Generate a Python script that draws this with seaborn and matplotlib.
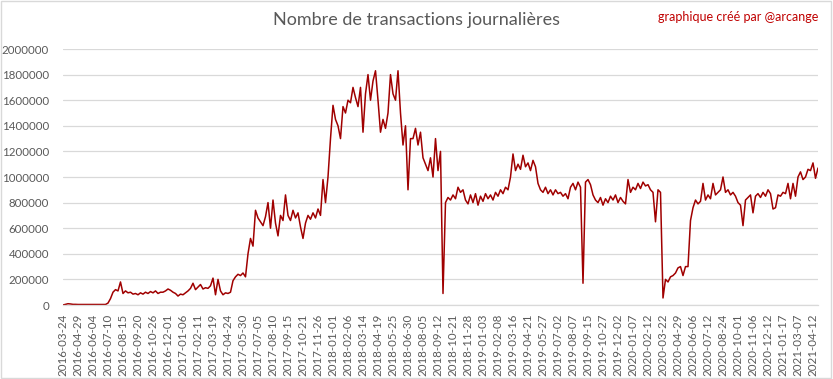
import numpy as np
import pandas as pd
import matplotlib
matplotlib.use("Agg")
import matplotlib.pyplot as plt
import matplotlib.ticker as mticker
from matplotlib.patches import Rectangle
import seaborn as sns


# tick labels of the category axis (one every 36 days of data)
tick_dates = ['2016-03-24', '2016-04-29', '2016-06-04', '2016-07-10', '2016-08-15', '2016-09-20',
              '2016-10-26', '2016-12-01', '2017-01-06', '2017-02-11', '2017-03-19', '2017-04-24',
              '2017-05-30', '2017-07-05', '2017-08-10', '2017-09-15', '2017-10-21', '2017-11-26',
              '2018-01-01', '2018-02-06', '2018-03-14', '2018-04-19', '2018-05-25', '2018-06-30',
              '2018-08-05', '2018-09-12', '2018-10-21', '2018-11-28', '2019-01-03', '2019-02-08',
              '2019-03-16', '2019-04-21', '2019-05-27', '2019-07-02', '2019-08-07', '2019-09-15',
              '2019-10-27', '2019-12-02', '2020-01-07', '2020-02-12', '2020-03-22', '2020-04-29',
              '2020-06-06', '2020-07-12', '2020-08-24', '2020-10-01', '2020-11-06', '2020-12-12',
              '2021-01-17', '2021-03-07', '2021-04-12']

# daily transactions, read every 6th day off the chart (thousands)
tx_2016 = [0, 5, 10, 8, 5, 5, 4, 4, 4, 4,
           4, 4, 4, 4, 4, 4, 4, 4, 15, 50,
           100, 120, 110, 180, 90, 110, 95, 100, 85, 90,
           80, 95, 85, 100, 90, 105, 95, 110, 90, 100,
           100, 110, 125, 115, 100, 90, 70, 85, 80, 95]
tx_2017 = [110, 130, 170, 120, 140, 160, 125, 135, 130, 150,
           210, 80, 200, 110, 80, 95, 90, 100, 190, 220,
           240, 230, 250, 220, 400, 520, 460, 740, 680, 650,
           620, 690, 800, 600, 820, 640, 540, 700, 660, 860,
           700, 660, 740, 680, 720, 610, 520, 640, 700, 670,
           720, 680, 750, 700, 980, 800, 1000, 1300, 1560, 1450]
tx_2018 = [1400, 1300, 1550, 1500, 1600, 1580, 1700, 1620, 1550, 1700,
           1350, 1650, 1800, 1600, 1750, 1830, 1600, 1350, 1450, 1380,
           1500, 1800, 1650, 1600, 1830, 1500, 1250, 1400, 900, 1300,
           1300, 1380, 1250, 1350, 1150, 1100, 1050, 1150, 1000, 1300,
           1050, 1200, 90, 800, 840, 820, 860, 830, 920, 880,
           900, 820, 790, 860, 800, 870, 780, 850, 810, 870]
tx_2019 = [830, 860, 820, 880, 850, 900, 870, 920, 900, 1000,
           1180, 1050, 1100, 1060, 1170, 1080, 1110, 1050, 1130, 1080,
           950, 900, 880, 920, 870, 900, 860, 900, 870, 880,
           850, 870, 830, 920, 950, 900, 960, 920, 170, 960,
           980, 940, 860, 820, 800, 840, 780, 830, 800, 850,
           820, 860, 800, 840, 810, 790, 980, 880, 920, 900]
tx_2020 = [950, 910, 960, 930, 940, 900, 880, 650, 900, 880,
           55, 200, 180, 220, 230, 250, 290, 300, 230, 300,
           300, 660, 760, 820, 790, 810, 950, 820, 860, 830,
           950, 860, 880, 900, 1000, 880, 900, 860, 880, 850,
           800, 780, 620, 820, 840, 860, 720, 850, 870, 840,
           880, 850, 900, 870, 750, 760, 860, 850, 880, 870]
tx_2021 = [950, 830, 950, 850, 1000, 1040, 980, 1000, 1060, 1050,
           1110, 990, 1070]

values = np.array(tx_2016 + tx_2017 + tx_2018 + tx_2019 + tx_2020 + tx_2021) * 1000
step = 6
df = pd.DataFrame({'day': np.arange(len(values)) * step, 'tx': values})

sns.set_theme(style="white")
plt.rcParams['font.family'] = ['Lato', 'DejaVu Sans']

fig = plt.figure(figsize=(8.33, 3.79), dpi=100)
ax = fig.add_axes([63 / 833, 1 - 305 / 379, (818 - 63) / 833, (305 - 49) / 379])

sns.lineplot(data=df, x='day', y='tx', ax=ax, color='#A00000', linewidth=1.1)

ax.set_xlim(0, 1812)
ax.set_ylim(0, 2000000)
ax.set_yticks(np.arange(0, 2000001, 200000))
ax.yaxis.set_major_formatter(mticker.StrMethodFormatter('{x:.0f}'))
ax.set_xticks(np.arange(len(tick_dates)) * 36)
ax.set_xticklabels(tick_dates, rotation=90)
ax.tick_params(axis='both', labelsize=8.3, labelcolor='#595959', length=0)
ax.tick_params(axis='y', pad=10)
ax.tick_params(axis='x', pad=6)
ax.set_xlabel('')
ax.set_ylabel('')

ax.grid(axis='y', color='#D9D9D9', linewidth=0.9)
ax.set_axisbelow(True)
for side in ['top', 'left', 'right']:
    ax.spines[side].set_visible(False)
ax.spines['bottom'].set_color('#D9D9D9')
ax.spines['bottom'].set_linewidth(0.9)

fig.text(0.5, 1 - 20 / 379, 'Nombre de transactions journalières', ha='center', va='center',
         fontsize=13, color='#595959')
fig.text(818 / 833, 1 - 17 / 379, 'graphique créé par @arcange', ha='right', va='center',
         fontsize=9, color='#C00000')

fig.patches.append(Rectangle((0.001, 0.002), 0.997, 0.995, transform=fig.transFigure,
                             fill=False, edgecolor='#D9D9D9', linewidth=1))

fig.savefig('out.png', dpi=100)
